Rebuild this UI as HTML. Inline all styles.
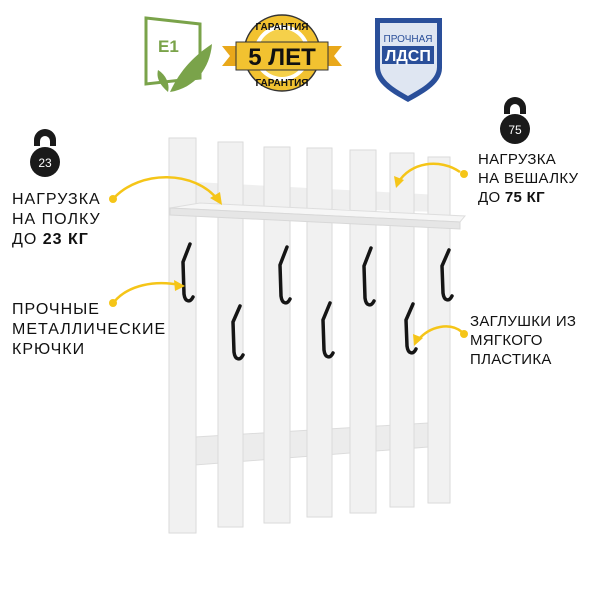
<!DOCTYPE html>
<html><head><meta charset="utf-8"><style>
body{margin:0;width:600px;height:600px;background:#fff;overflow:hidden;position:relative;font-family:"Liberation Sans",sans-serif}
.t{position:absolute;font-size:15px;line-height:19px;color:#111;letter-spacing:0.3px}
.l{font-size:16px;line-height:20px;letter-spacing:1px}
</style></head><body>
<svg width="600" height="600" style="position:absolute;left:0;top:0">
<path d="M146 18 L200 24 L200 78 L146 84 Z" fill="none" stroke="#7aa34a" stroke-width="3"/>
<text x="158" y="52" font-family="Liberation Sans" font-weight="bold" font-size="17" fill="#7aa34a">E1</text>
<path d="M170 92 C180 70,195 55,212 44 C210 68,195 88,170 92Z" fill="#7aa34a"/>
<path d="M168 92 C160 85,156 78,158 70 C166 75,170 84,168 92Z" fill="#7aa34a"/>
<circle cx="282" cy="53" r="38" fill="#f2c230" stroke="#333" stroke-width="1.5"/>
<circle cx="282" cy="53" r="28" fill="#fff"/>
<circle cx="282" cy="53" r="24" fill="#f5d04a"/>
<path d="M222 46 L240 46 L240 66 L222 66 L230 56Z" fill="#e9a81a"/>
<path d="M342 46 L324 46 L324 66 L342 66 L334 56Z" fill="#e9a81a"/>
<rect x="236" y="42" width="92" height="28" fill="#f2c230" stroke="#333" stroke-width="1"/>
<text x="282" y="65" text-anchor="middle" font-family="Liberation Sans" font-weight="bold" font-size="24" fill="#111">5 ЛЕТ</text>
<text x="282" y="30" text-anchor="middle" font-family="Liberation Sans" font-weight="bold" font-size="10" fill="#111">ГАРАНТИЯ</text>
<text x="282" y="86" text-anchor="middle" font-family="Liberation Sans" font-weight="bold" font-size="10" fill="#111">ГАРАНТИЯ</text>
<path d="M375 18 L442 18 L442 68 C442 85,420 95,408 102 C396 95,375 85,375 68Z" fill="#2a4f9a"/>
<path d="M380 23 L437 23 L437 67 C437 81,418 90,408 96 C398 90,380 81,380 67Z" fill="#dfe6f2"/>
<text x="408" y="42" text-anchor="middle" font-family="Liberation Sans" font-size="10" fill="#2a4f9a">ПРОЧНАЯ</text>
<rect x="382" y="46" width="52" height="18" fill="#2a4f9a"/>
<text x="408" y="61" text-anchor="middle" font-family="Liberation Sans" font-weight="bold" font-size="16" fill="#fff">ЛДСП</text>
<g fill="#1a1a1a">
<path d="M34 140 A11 11 0 0 1 56 140 L56 146 L50 146 L50 141 A5 5 0 0 0 40 141 L40 146 L34 146Z"/>
<circle cx="45" cy="162" r="15"/>
<path d="M504 108 A11 11 0 0 1 526 108 L526 114 L520 114 L520 109 A5 5 0 0 0 510 109 L510 114 L504 114Z"/>
<circle cx="515" cy="129" r="15"/>
</g>
<text x="45" y="167" text-anchor="middle" font-family="Liberation Sans" font-size="12" fill="#fff">23</text>
<text x="515" y="134" text-anchor="middle" font-family="Liberation Sans" font-size="12" fill="#fff">75</text>
<path d="M195 437 L428 423 L428 447 L195 465Z" fill="#ececec" stroke="#dcdcdc"/>
<path d="M195 182 L440 195 L440 212 L195 205Z" fill="#efefef"/>
<g fill="#f1f1f1" stroke="#dadada" stroke-width="1">
<rect x="169" y="138" width="27" height="395"/>
<rect x="218" y="142" width="25" height="385"/>
<rect x="264" y="147" width="26" height="376"/>
<rect x="307" y="148" width="25" height="369"/>
<rect x="350" y="150" width="26" height="363"/>
<rect x="390" y="153" width="24" height="354"/>
<rect x="428" y="157" width="22" height="346"/>
</g>
<path d="M170 208 L200 203 L465 216 L460 222 Z" fill="#f6f6f6" stroke="#dedede"/>
<path d="M170 208 L460 222 L460 229 L170 215Z" fill="#e6e6e6" stroke="#d8d8d8"/>
<g fill="none" stroke="#151515" stroke-width="3.5" stroke-linecap="round">
<path d="M190 244 L183 262 L184 294 C185 302,190 303,193 297"/>
<path d="M287 247 L280 265 L281 296 C282 304,287 305,290 299"/>
<path d="M371 248 L364 266 L365 298 C366 306,371 307,374 301"/>
<path d="M449 250 L442 266 L443 293 C444 301,449 302,452 296"/>
<path d="M240 306 L233 322 L234 352 C235 360,240 361,243 355"/>
<path d="M330 303 L323 320 L324 350 C325 358,330 359,333 353"/>
<path d="M413 304 L406 320 L407 346 C408 354,413 355,416 349"/>
</g>
<g fill="none" stroke="#f5c518" stroke-width="2.5">
<path d="M114 198 C140 170,195 170,218 200"/>
<path d="M460 172 C440 158,410 162,398 183"/>
<path d="M114 302 C128 285,155 280,180 285"/>
<path d="M462 332 C450 322,430 326,418 340"/>
</g>
<g fill="#f5c518">
<circle cx="113" cy="199" r="4"/><circle cx="464" cy="174" r="4"/>
<circle cx="113" cy="303" r="4"/><circle cx="464" cy="334" r="4"/>
<path d="M222 205 L210 198 L220 192Z"/>
<path d="M396 188 L394 176 L404 180Z"/>
<path d="M185 286 L174 280 L175 291Z"/>
<path d="M414 346 L413 334 L423 338Z"/>
</g>
</svg>
<div class="t l" style="left:12px;top:190px">НАГРУЗКА<br>НА ПОЛКУ<br>ДО <b>23 КГ</b></div>
<div class="t l" style="left:12px;top:300px">ПРОЧНЫЕ<br>МЕТАЛЛИЧЕСКИЕ<br>КРЮЧКИ</div>
<div class="t" style="left:478px;top:150px">НАГРУЗКА<br>НА ВЕШАЛКУ<br>ДО <b>75 КГ</b></div>
<div class="t" style="left:470px;top:312px">ЗАГЛУШКИ ИЗ<br>МЯГКОГО<br>ПЛАСТИКА</div>
</body></html>
